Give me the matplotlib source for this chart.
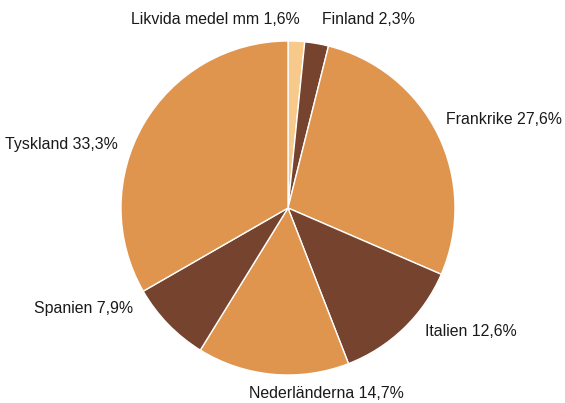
import matplotlib
matplotlib.use("Agg")
import matplotlib.pyplot as plt

categories = ["Likvida medel mm", "Finland", "Frankrike", "Italien", "Nederländerna", "Spanien", "Tyskland"]
values = [1.6, 2.3, 27.6, 12.6, 14.7, 7.9, 33.3]
colors = ["#F7C98A", "#76432E", "#E0954F", "#76432E", "#E0954F", "#76432E", "#E0954F"]

# label anchor positions in pixels (x, y from top), horizontal alignment
label_pos = [(300, 20, "right"), (322, 20, "left"), (446, 120, "left"),
             (425, 331, "left"), (249, 394, "left"), (133, 308, "right"), (118, 145, "right")]

W, H = 565, 403
fig = plt.figure(figsize=(W / 100, H / 100), dpi=100)
cx, cy, r = 288, 208, 167
ax = fig.add_axes([(cx - r) / W, (H - cy - r) / H, 2 * r / W, 2 * r / H])
ax.pie(values, colors=colors, startangle=90, counterclock=False,
       wedgeprops=dict(edgecolor="white", linewidth=1.0))
ax.set_xlim(-1, 1)
ax.set_ylim(-1, 1)
ax.set_aspect("equal")
ax.axis("off")

for cat, v, (x, y, ha) in zip(categories, values, label_pos):
    txt = f"{cat} {v:.1f}%".replace(".", ",")
    fig.text(x / W, 1 - y / H, txt, ha=ha, va="center", fontsize=11.4,
             family="Liberation Sans", color="#1a1a1a")

fig.savefig("out.png", dpi=100)
